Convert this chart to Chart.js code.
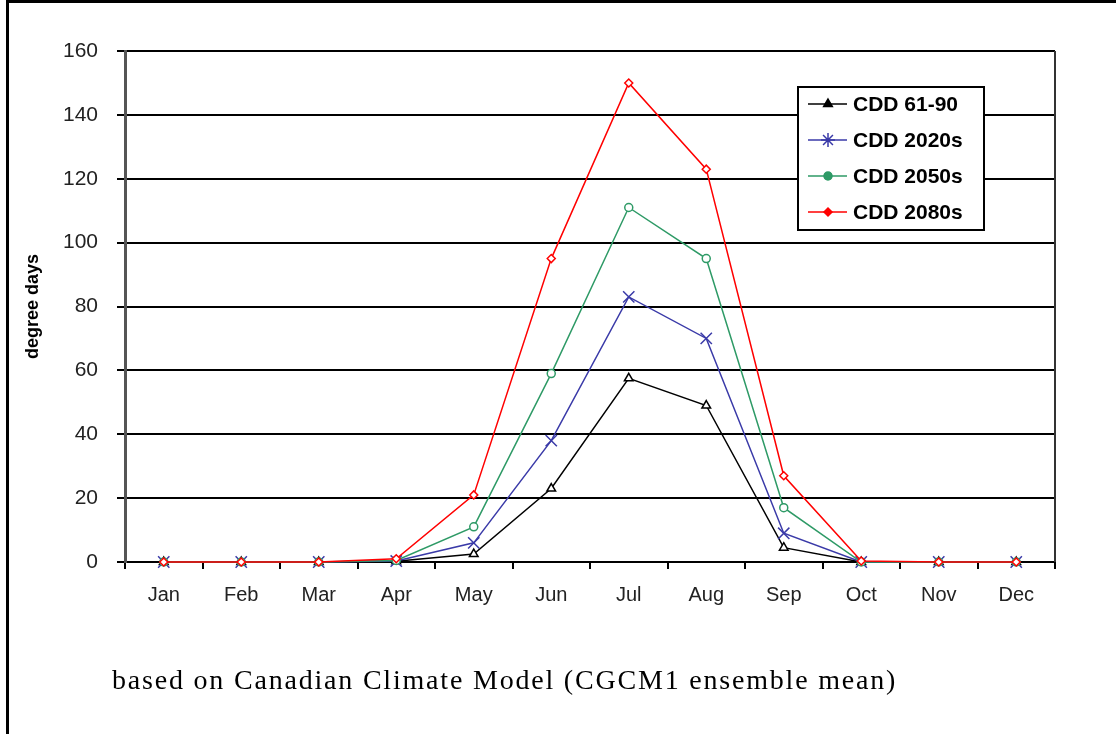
<!DOCTYPE html>
<html>
<head>
<meta charset="utf-8">
<script src="https://cdn.jsdelivr.net/npm/chart.js@4/dist/chart.umd.min.js"></script>
<style>
  html, body { margin: 0; padding: 0; background: #fff; }
  #wrap { position: relative; width: 1116px; height: 734px; overflow: hidden; }
  #frame { position: absolute; left: 6px; top: 0; width: 1110px; height: 734px;
           border-left: 3px solid #000; border-top: 3px solid #000; box-sizing: border-box; }
  #chart { position: absolute; left: 0; top: 0; }
  #caption { position: absolute; left: 112px; top: 664px; font-family: "Liberation Serif", serif;
             font-size: 28px; letter-spacing: 1.8px; color: #000; white-space: nowrap; }
</style>
</head>
<body>
<div id="wrap">
  <canvas id="chart" width="1116" height="734"></canvas>
  <div id="frame"></div>
  <div id="caption">based on Canadian Climate Model (CGCM1 ensemble mean)</div>
</div>
<script>
var months = ['Jan', 'Feb', 'Mar', 'Apr', 'May', 'Jun', 'Jul', 'Aug', 'Sep', 'Oct', 'Nov', 'Dec'];
var cdd6190 = [0, 0, 0, 0.2, 2.5, 23, 57.5, 49, 4.5, 0, 0, 0];
var cdd2020s = [0, 0, 0, 0.3, 6, 38, 83, 70, 9, 0, 0, 0];
var cdd2050s = [0, 0, 0, 0.5, 11, 59, 111, 95, 17, 0, 0, 0];
var cdd2080s = [0, 0, 0, 1, 21, 95, 150, 123, 27, 0.3, 0, 0];
var yTicks = [0, 20, 40, 60, 80, 100, 120, 140, 160];

// legend box + right border of the plot
var boxPlugin = {
  id: 'boxPlugin',
  afterDraw: function(chart) {
    var ctx = chart.ctx, a = chart.chartArea;
    ctx.save();
    ctx.strokeStyle = '#333';
    ctx.lineWidth = 2;
    ctx.beginPath();
    ctx.moveTo(a.right, a.top);
    ctx.lineTo(a.right, a.bottom);
    ctx.stroke();

    var x = 798, y = 87, w = 186, h = 143;
    ctx.fillStyle = '#fff';
    ctx.fillRect(x, y, w, h);
    ctx.strokeStyle = '#000';
    ctx.lineWidth = 2;
    ctx.strokeRect(x, y, w, h);
    ctx.font = 'bold 21px "Liberation Sans", Arial, sans-serif';
    ctx.textBaseline = 'middle';
    chart.data.datasets.forEach(function(ds, i) {
      var ry = 104 + i * 36;
      ctx.strokeStyle = ds.borderColor;
      ctx.lineWidth = 1.5;
      ctx.beginPath();
      ctx.moveTo(808, ry);
      ctx.lineTo(847, ry);
      ctx.stroke();
      ctx.fillStyle = ds.borderColor;
      ctx.strokeStyle = ds.borderColor;
      var style = ds.pointStyle === 'crossRot' ? 'star' : ds.pointStyle;
      Chart.helpers.drawPoint(ctx, {
        pointStyle: style,
        radius: ds.pointStyle === 'crossRot' ? 7 : ds.pointRadius,
        borderWidth: 1.5
      }, 828, ry);
      if (style !== 'star') ctx.fill();
      ctx.fillStyle = '#000';
      ctx.fillText(ds.label, 853, ry + 1);
    });
    ctx.restore();
  }
};

var ctx = document.getElementById('chart').getContext('2d');
var chart = new Chart(ctx, {
  type: 'line',
  data: {
    labels: months,
    datasets: [{
      label: 'CDD 61-90',
      data: cdd6190,
      borderColor: '#000000',
      pointStyle: 'triangle',
      pointRadius: 5,
      pointBackgroundColor: '#ffffff',
      clip: false,
      order: 3
    }, {
      label: 'CDD 2020s',
      data: cdd2020s,
      borderColor: '#3a3aa8',
      pointStyle: 'crossRot',
      pointRadius: 8,
      pointBackgroundColor: '#3a3aa8',
      clip: false,
      order: 2
    }, {
      label: 'CDD 2050s',
      data: cdd2050s,
      borderColor: '#2e9a66',
      pointStyle: 'circle',
      pointRadius: 4,
      pointBackgroundColor: '#ffffff',
      clip: false,
      order: 1
    }, {
      label: 'CDD 2080s',
      data: cdd2080s,
      borderColor: '#ff0000',
      pointStyle: 'rectRot',
      pointRadius: 4,
      pointBackgroundColor: '#ffffff',
      clip: false,
      order: 0
    }]
  },
  options: {
    responsive: false,
    animation: false,
    devicePixelRatio: 1,
    layout: { padding: { left: 8, top: 51, right: 61, bottom: 0 } },
    elements: {
      line: { borderWidth: 1.5, tension: 0, fill: false },
      point: { borderWidth: 1.5 }
    },
    plugins: {
      legend: { display: false },
      tooltip: { enabled: false }
    },
    scales: {
      x: {
        offset: true,
        afterFit: function(scale) { scale.height = 172; },
        grid: { drawOnChartArea: false, drawTicks: true, tickLength: 7, color: '#000', lineWidth: 2, offset: true },
        border: { color: '#000', width: 2 },
        ticks: { color: '#222', padding: 14, font: { family: '"Liberation Sans", Arial, sans-serif', size: 20 } }
      },
      y: {
        min: 0,
        max: 160,
        afterFit: function(scale) { scale.width = 117; },
        afterBuildTicks: function(scale) {
          scale.ticks = yTicks.map(function(v) { return { value: v }; });
        },
        grid: { color: '#000', lineWidth: 2, tickLength: 8 },
        border: { color: '#555', width: 3 },
        ticks: { color: '#222', padding: 19, font: { family: '"Liberation Sans", Arial, sans-serif', size: 21 } },
        title: {
          display: true,
          text: 'degree days',
          color: '#000',
          padding: { top: 14, bottom: 0 },
          font: { family: '"Liberation Sans", Arial, sans-serif', size: 18, weight: 'bold' }
        }
      }
    }
  },
  plugins: [boxPlugin]
});
</script>
</body>
</html>
